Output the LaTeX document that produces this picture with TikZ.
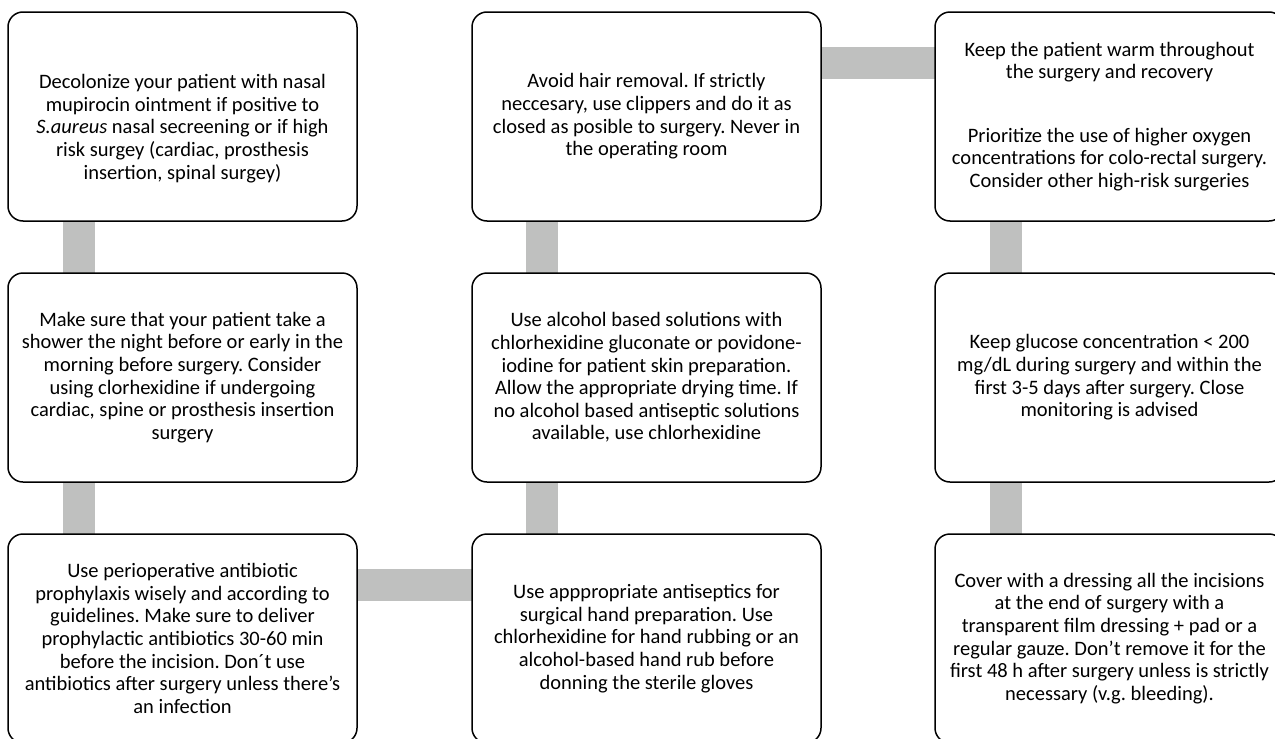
\documentclass[tikz,border=0pt]{standalone}
\usepackage{fontspec}
\setmainfont{Carlito}
\usepackage{tikz}
\usetikzlibrary{positioning,backgrounds}
\definecolor{barcolor}{RGB}{191,192,191}
\frenchspacing

\begin{document}
\begin{tikzpicture}[x=1pt, y=-1pt, node distance=52pt and 115pt,
    box/.style={draw, line width=1.5pt, rounded corners=15pt, fill=white,
      minimum width=349pt, minimum height=209pt, inner sep=4pt, outer sep=0pt,
      align=center, font=\fontsize{20.5}{22.6}\selectfont},
    link/.style={draw=barcolor, line width=32pt}]
        \useasboundingbox (0,0) rectangle (1275,739);
        \clip (0,0) rectangle (1275,739);
        \node[box, anchor=north west] (A) at (8,12) {\strut\\Decolonize your patient with nasal\\mupirocin ointment if positive to\\\textit{S.aureus} nasal secreening or if high\\risk surgey (cardiac, prosthesis\\insertion, spinal surgey)};
        \node[box] (B) [below=of A] {Make sure that your patient take a\\shower the night before or early in the\\morning before surgery. Consider\\using clorhexidine if undergoing\\cardiac, spine or prosthesis insertion\\surgery};
        \node[box] (C) [below=of B] {Use perioperative antibiotic\\prophylaxis wisely and according to\\guidelines. Make sure to deliver\\prophylactic antibiotics 30-60 min\\before the incision. Don´t use\\antibiotics after surgery unless there’s\\an infection};
        \node[box] (D) [right=of C] {Use apppropriate antiseptics for\\surgical hand preparation. Use\\chlorhexidine for hand rubbing or an\\alcohol-based hand rub before\\donning the sterile gloves};
        \node[box] (E) [above=of D] {Use alcohol based solutions with\\chlorhexidine gluconate or povidone-\\iodine for patient skin preparation.\\Allow the appropriate drying time. If\\no alcohol based antiseptic solutions\\available, use chlorhexidine};
        \node[box] (F) [above=of E] {Avoid hair removal. If strictly\\neccesary, use clippers and do it as\\closed as posible to surgery. Never in\\the operating room};
        \node[box] (G) [right=114pt of F] {Keep the patient warm throughout\\the surgery and recovery\\[41pt]Prioritize the use of higher oxygen\\concentrations for colo-rectal surgery.\\Consider other high-risk surgeries};
        \node[box] (H) [below=of G] {Keep glucose concentration < 200\\mg/dL during surgery and within the\\first 3-5 days after surgery. Close\\monitoring is advised};
        \node[box] (I) [below=of H] {Cover with a dressing all the incisions\\at the end of surgery with a\\transparent film dressing + pad or a\\regular gauze. Don’t remove it for the\\first 48 h after surgery unless is strictly\\necessary (v.g. bleeding).};
        \begin{scope}[on background layer]
        \draw[link] ([xshift=71pt]A.south west) -- ([xshift=71pt]B.north west);
        \draw[link] ([xshift=71pt]B.south west) -- ([xshift=71pt]C.north west);
        \draw[link] ([yshift=-51pt]C.north east) -- ([yshift=-51pt]D.north west);
        \draw[link] ([xshift=70pt]D.north west) -- ([xshift=70pt]E.south west);
        \draw[link] ([xshift=70pt]E.north west) -- ([xshift=70pt]F.south west);
        \draw[link] ([yshift=-51pt]F.north east) -- ([yshift=-51pt]G.north west);
        \draw[link] ([xshift=71pt]G.south west) -- ([xshift=71pt]H.north west);
        \draw[link] ([xshift=71pt]H.south west) -- ([xshift=71pt]I.north west);
        \end{scope}
  \end{tikzpicture}
\end{document}
